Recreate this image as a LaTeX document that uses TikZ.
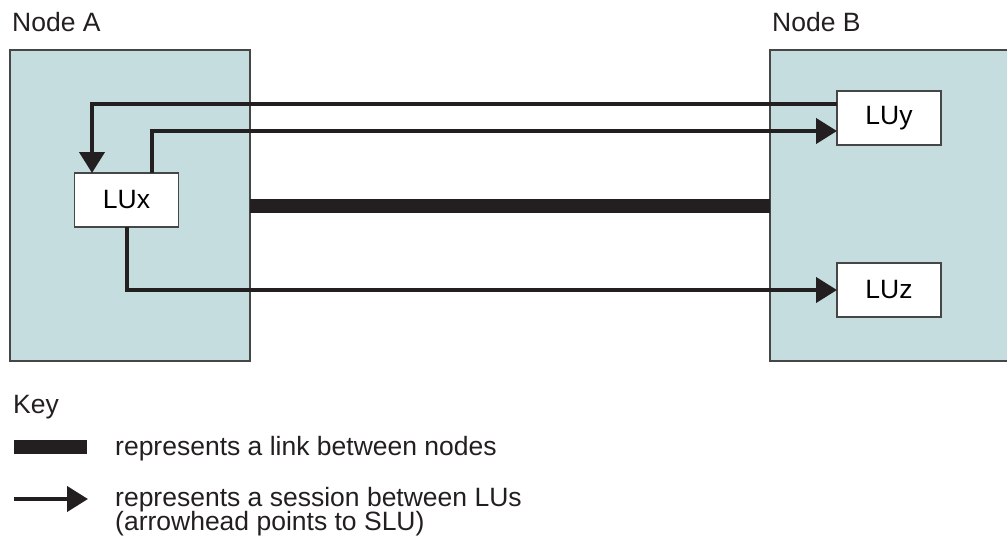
\documentclass[tikz,border=0pt]{standalone}
\usepackage{fontspec}
\setmainfont{Liberation Sans}
\usetikzlibrary{arrows.meta}
\definecolor{nodefill}{RGB}{198,221,223}
\definecolor{ink}{RGB}{35,31,32}
\definecolor{edge}{RGB}{70,70,70}
\begin{document}
\begin{tikzpicture}[x=1pt,y=-1pt,
  font=\fontsize{26.5}{29}\selectfont,
  nodebox/.style={draw=edge,line width=1.3pt,fill=nodefill,minimum width=240pt,minimum height=311pt,inner sep=0pt,outer sep=0pt},
  lubox/.style={draw=edge,line width=1.1pt,fill=white,minimum width=104pt,minimum height=54pt,inner sep=0pt,outer sep=0pt},
  session/.style={draw=ink,line width=4.2pt,-{Triangle[length=21pt,width=25pt]}},
  linkline/.style={draw=ink,line width=14pt},
  lbl/.style={anchor=base west,inner sep=0pt,text=ink}]
\path[use as bounding box] (0,0) rectangle (1007,544);
\node[nodebox] (A) at (130,205.5) {};
\node[nodebox] (B) at (890,205.5) {};
\node[lubox] (LUx) at (126.5,200) {LUx};
\node[lubox] (LUy) at (889,118) {LUy};
\node[lubox] (LUz) at (889,290) {LUz};
\node[lbl] (la) at (12,31) {Node A};
\node[lbl] (lb) at (772,31) {Node B};
\draw[linkline] (A.east) -- (B.west);
\draw[session] ([yshift=14pt]LUy.west) -| ([xshift=-34.5pt]LUx.north);
\draw[session] ([xshift=25.5pt]LUx.north) |- ([yshift=-13pt]LUy.west);
\draw[session] ([xshift=0.5pt]LUx.south) |- (LUz.west);
% key
\node[lbl] (key) at (13,413) {Key};
\coordinate (k1a) at (14,447);
\coordinate (k1b) at (87,447);
\draw[linkline] (k1a) -- (k1b);
\node[lbl] (t1) at (115,455) {represents a link between nodes};
\coordinate (k2a) at (14,499);
\coordinate (k2b) at (88,499);
\draw[session] (k2a) -- (k2b);
\node[lbl] (t2) at (115,506) {represents a session between LUs};
\node[lbl] (t3) at (115,530) {(arrowhead points to SLU)};
\end{tikzpicture}
\end{document}
